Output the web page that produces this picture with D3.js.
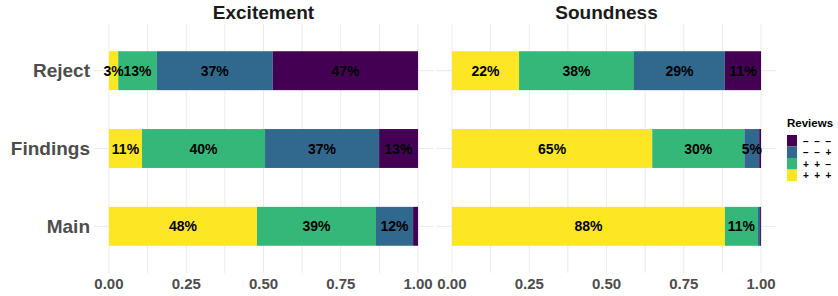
<!DOCTYPE html>
<head>
  <meta charset="utf-8">
  <script src="https://cdn.jsdelivr.net/npm/d3@7"></script>
  <style>
    body { margin: 0; background: #fff; }
    text { font-family: "Liberation Sans", Arial, sans-serif; font-weight: bold; }
  </style>
</head>
<body>
  <script>
    var categories = ["Reject", "Findings", "Main"];
    var facets = ["Excitement", "Soundness"];
    var keys = ["+++", "++-", "--+", "---"];
    var keyLabels = {"---": "\u2212 \u2212 \u2212", "--+": "\u2212 \u2212 +", "++-": "+ + \u2212", "+++": "+ + +"};
    var colors = {"+++": "#fde725", "++-": "#35b779", "--+": "#31688e", "---": "#440154"};

    // shares per row: +++, ++-, --+, ---
    var excitement = [
      [0.030, 0.125, 0.375, 0.470],
      [0.107, 0.398, 0.369, 0.126],
      [0.479, 0.385, 0.120, 0.016]
    ];
    var soundness = [
      [0.217, 0.372, 0.294, 0.117],
      [0.648, 0.298, 0.048, 0.006],
      [0.883, 0.107, 0.007, 0.003]
    ];
    var excitementLabels = [
      ["3%", "13%", "37%", "47%"],
      ["11%", "40%", "37%", "13%"],
      ["48%", "39%", "12%", ""]
    ];
    var soundnessLabels = [
      ["22%", "38%", "29%", "11%"],
      ["65%", "30%", "5%", ""],
      ["88%", "11%", "", ""]
    ];
    var xTicks = [0, 0.25, 0.5, 0.75, 1];
    var xTickLabels = ["0.00", "0.25", "0.50", "0.75", "1.00"];

    var width = 838, height = 296;
    var svg = d3.select("body").append("svg")
      .attr("width", width)
      .attr("height", height);

    var panels = [
      {title: facets[0], values: excitement, labels: excitementLabels, left: 93.5, right: 433.5},
      {title: facets[1], values: soundness, labels: soundnessLabels, left: 436.5, right: 776.5}
    ];
    var panelTop = 24, panelBottom = 273;

    var y = d3.scaleBand()
      .domain(categories)
      .range([panelTop, panelBottom])
      .paddingInner(0.5)
      .paddingOuter(0.35);

    panels.forEach(function(p) {
      var x = d3.scaleLinear().domain([-0.05, 1.05]).range([p.left, p.right]);
      var g = svg.append("g");

      // grid: major + minor verticals
      var grid = d3.range(0, 1.0001, 0.125);
      g.selectAll(".vg").data(grid).enter().append("line")
        .attr("x1", x).attr("x2", x)
        .attr("y1", panelTop).attr("y2", panelBottom)
        .attr("stroke", "#ebebeb").attr("stroke-width", 1);
      g.selectAll(".hg").data(categories).enter().append("line")
        .attr("x1", p.left).attr("x2", p.right)
        .attr("y1", function(d) { return y(d) + y.bandwidth() / 2; })
        .attr("y2", function(d) { return y(d) + y.bandwidth() / 2; })
        .attr("stroke", "#ebebeb").attr("stroke-width", 1);

      categories.forEach(function(cat, i) {
        var row = p.values[i];
        var stacked = [];
        var acc = 0;
        row.forEach(function(v, j) {
          stacked.push({key: keys[j], x0: acc, x1: acc + v, label: p.labels[i][j]});
          acc += v;
        });
        var rg = g.append("g");
        rg.selectAll("rect").data(stacked).enter().append("rect")
          .attr("x", function(d) { return x(d.x0); })
          .attr("width", function(d) { return x(d.x1) - x(d.x0); })
          .attr("y", y(cat))
          .attr("height", y.bandwidth())
          .attr("fill", function(d) { return colors[d.key]; });
        rg.selectAll("text").data(stacked).enter().append("text")
          .attr("x", function(d) { return x((d.x0 + d.x1) / 2); })
          .attr("y", y(cat) + y.bandwidth() / 2 + 5)
          .attr("text-anchor", "middle")
          .attr("font-size", 14)
          .attr("fill", "#000")
          .text(function(d) { return d.label; });
      });

      // x axis labels
      g.selectAll(".xt").data(xTicks).enter().append("text")
        .attr("x", x)
        .attr("y", 289)
        .attr("text-anchor", "middle")
        .attr("font-size", 15)
        .attr("fill", "#4d4d4d")
        .text(function(d, i) { return xTickLabels[i]; });

      // facet title
      g.append("text")
        .attr("x", (p.left + p.right) / 2)
        .attr("y", 19)
        .attr("text-anchor", "middle")
        .attr("font-size", 19)
        .attr("fill", "#1a1a1a")
        .text(p.title);
    });

    // y axis labels
    svg.selectAll(".yl").data(categories).enter().append("text")
      .attr("x", 90)
      .attr("y", function(d) { return y(d) + y.bandwidth() / 2 + 6.5; })
      .attr("text-anchor", "end")
      .attr("font-size", 19)
      .attr("fill", "#4d4d4d")
      .text(function(d) { return d; });

    // legend
    var legend = svg.append("g").attr("transform", "translate(787,0)");
    legend.append("text")
      .attr("x", 0).attr("y", 127)
      .attr("font-size", 11.5)
      .attr("fill", "#000")
      .text("Reviews");
    var legendKeys = keys.slice().reverse();
    legend.selectAll("rect").data(legendKeys).enter().append("rect")
      .attr("x", 0)
      .attr("y", function(d, i) { return 135 + i * 11.5; })
      .attr("width", 10)
      .attr("height", 11.5)
      .attr("fill", function(d) { return colors[d]; });
    legend.selectAll(".lk").data(legendKeys).enter().append("text")
      .attr("x", 16)
      .attr("y", function(d, i) { return 144.5 + i * 11.5; })
      .attr("font-size", 10)
      .attr("letter-spacing", 1.3)
      .attr("fill", "#000")
      .text(function(d) { return keyLabels[d]; });
  </script>
</body>
